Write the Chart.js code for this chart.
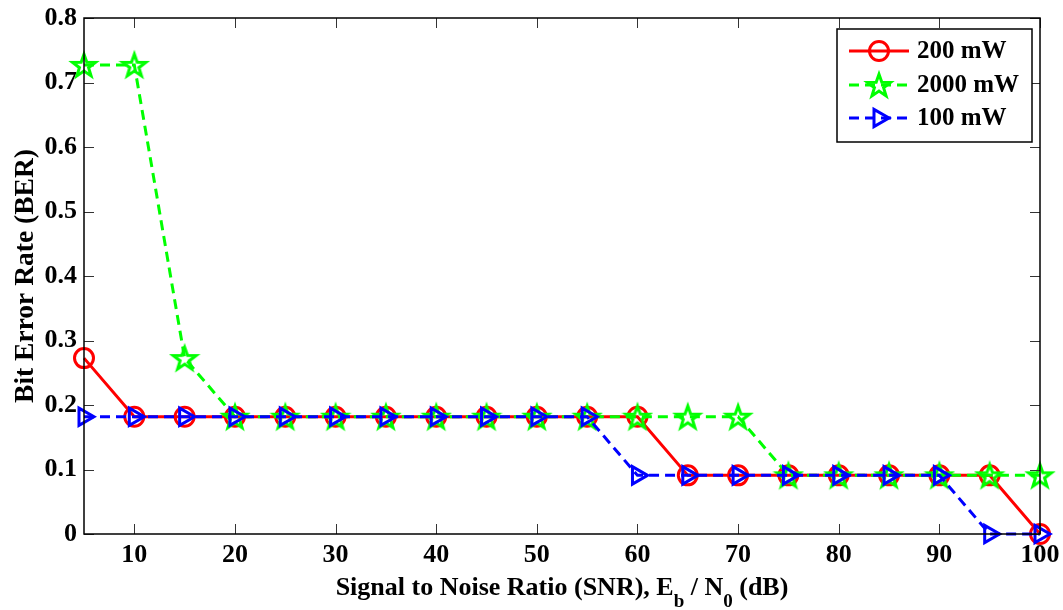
<!DOCTYPE html>
<html>
<head>
<meta charset="utf-8">
<script src="https://cdn.jsdelivr.net/npm/chart.js@4.4.1/dist/chart.umd.min.js"></script>
<style>
  body { margin: 0; background: #fff; }
  #wrap { width: 1063px; height: 610px; }
</style>
</head>
<body>
<div id="wrap"><canvas id="berChart" width="1063" height="610"></canvas></div>
<script>
// data (BER vs SNR)
const snr = [5, 10, 15, 20, 25, 30, 35, 40, 45, 50, 55, 60, 65, 70, 75, 80, 85, 90, 95, 100];
const ber200mW = [0.2727, 0.1818, 0.1818, 0.1818, 0.1818, 0.1818, 0.1818, 0.1818, 0.1818, 0.1818,
                  0.1818, 0.1818, 0.0909, 0.0909, 0.0909, 0.0909, 0.0909, 0.0909, 0.0909, 0];
const ber2000mW = [0.7273, 0.7273, 0.2727, 0.1818, 0.1818, 0.1818, 0.1818, 0.1818, 0.1818, 0.1818,
                   0.1818, 0.1818, 0.1818, 0.1818, 0.0909, 0.0909, 0.0909, 0.0909, 0.0909, 0.0909];
const ber100mW = [0.1818, 0.1818, 0.1818, 0.1818, 0.1818, 0.1818, 0.1818, 0.1818, 0.1818, 0.1818,
                  0.1818, 0.0909, 0.0909, 0.0909, 0.0909, 0.0909, 0.0909, 0.0909, 0, 0];
const seriesNames = ['200 mW', '2000 mW', '100 mW'];
const xTicks = [10, 20, 30, 40, 50, 60, 70, 80, 90, 100];
const yTicks = [0, 0.1, 0.2, 0.3, 0.4, 0.5, 0.6, 0.7, 0.8];

const FONT = '"Liberation Serif", "Times New Roman", serif';

function makePentagram(r, color, lw) {
    const size = Math.ceil(2 * r + lw * 2 + 2);
    const c = document.createElement('canvas');
    c.width = size;
    c.height = size;
    const g = c.getContext('2d');
    const cx = size / 2, cy = size / 2 + r * 0.1;
    g.beginPath();
    for (let i = 0; i < 10; i++) {
        const rad = i % 2 === 0 ? r : r * 0.4;
        const a = -Math.PI / 2 + i * Math.PI / 5;
        g.lineTo(cx + rad * Math.cos(a), cy + rad * Math.sin(a));
    }
    g.closePath();
    g.strokeStyle = color;
    g.lineWidth = lw;
    g.stroke();
    return c;
}

const star = makePentagram(12, '#00ff00', 3);

const frameAndLegend = {
    id: 'frameAndLegend',
    afterDraw(chart) {
        const ctx = chart.ctx;
        const a = chart.chartArea;
        const xs = chart.scales.x, ys = chart.scales.y;
        ctx.save();
        // inward ticks on all four sides
        ctx.strokeStyle = '#333';
        ctx.lineWidth = 1;
        ctx.beginPath();
        xTicks.forEach(v => {
            const px = Math.round(xs.getPixelForValue(v)) + 0.5;
            ctx.moveTo(px, a.bottom); ctx.lineTo(px, a.bottom - 10);
            ctx.moveTo(px, a.top); ctx.lineTo(px, a.top + 10);
        });
        yTicks.forEach(v => {
            const py = Math.round(ys.getPixelForValue(v)) + 0.5;
            ctx.moveTo(a.left, py); ctx.lineTo(a.left + 10, py);
            ctx.moveTo(a.right, py); ctx.lineTo(a.right - 10, py);
        });
        ctx.stroke();
        // box
        ctx.strokeStyle = '#000';
        ctx.lineWidth = 1.5;
        ctx.strokeRect(a.left, a.top, a.right - a.left, a.bottom - a.top);

        // x axis title with subscripts
        const parts = [
            { t: 'Signal to Noise Ratio (SNR), E', sub: false },
            { t: 'b', sub: true },
            { t: ' / N', sub: false },
            { t: '0', sub: true },
            { t: ' (dB)', sub: false }
        ];
        const big = 'bold 26px ' + FONT, small = 'bold 19px ' + FONT;
        let total = 0;
        parts.forEach(p => { ctx.font = p.sub ? small : big; p.w = ctx.measureText(p.t).width; total += p.w; });
        let tx = (a.left + a.right) / 2 - total / 2;
        ctx.fillStyle = '#000';
        ctx.textBaseline = 'alphabetic';
        ctx.textAlign = 'left';
        parts.forEach(p => {
            ctx.font = p.sub ? small : big;
            ctx.fillText(p.t, tx, p.sub ? 607 : 595);
            tx += p.w;
        });

        // legend
        const lx = 837, ly = 29, lw = 195, lh = 113;
        ctx.fillStyle = '#fff';
        ctx.fillRect(lx, ly, lw, lh);
        ctx.strokeStyle = '#000';
        ctx.lineWidth = 1.5;
        ctx.strokeRect(lx, ly, lw, lh);
        const rows = [51, 85, 118];
        chart.data.datasets.forEach((ds, i) => {
            const y = rows[i];
            ctx.save();
            ctx.strokeStyle = ds.borderColor;
            ctx.lineWidth = ds.borderWidth;
            ctx.setLineDash(ds.borderDash || []);
            ctx.beginPath();
            ctx.moveTo(849, y); ctx.lineTo(909, y);
            ctx.stroke();
            ctx.setLineDash([]);
            ctx.fillStyle = 'rgba(0,0,0,0)';
            ctx.strokeStyle = ds.pointBorderColor;
            ctx.lineWidth = ds.pointBorderWidth;
            Chart.helpers.drawPoint(ctx, {
                pointStyle: ds.pointStyle,
                radius: ds.pointRadius,
                rotation: ds.pointRotation || 0,
                borderWidth: ds.pointBorderWidth
            }, 879, y);
            ctx.restore();
            ctx.fillStyle = '#000';
            ctx.font = 'bold 25px ' + FONT;
            ctx.textBaseline = 'middle';
            ctx.fillText(ds.label, 917, y + 1);
        });
        ctx.restore();
    }
};

new Chart(document.getElementById('berChart'), {
    type: 'line',
    data: {
        datasets: [
            {
                label: seriesNames[0],
                data: snr.map((x, i) => ({ x: x, y: ber200mW[i] })),
                borderColor: '#ff0000',
                borderWidth: 3,
                pointStyle: 'circle',
                pointRadius: 9.5,
                pointBorderColor: '#ff0000',
                pointBackgroundColor: 'rgba(0,0,0,0)',
                pointBorderWidth: 3,
                order: 3
            },
            {
                label: seriesNames[1],
                data: snr.map((x, i) => ({ x: x, y: ber2000mW[i] })),
                borderColor: '#00ff00',
                borderWidth: 3,
                borderDash: [10, 6],
                pointStyle: star,
                pointRadius: 12,
                pointBorderColor: '#00ff00',
                pointBackgroundColor: 'rgba(0,0,0,0)',
                pointBorderWidth: 3,
                order: 2
            },
            {
                label: seriesNames[2],
                data: snr.map((x, i) => ({ x: x, y: ber100mW[i] })),
                borderColor: '#0000ff',
                borderWidth: 3,
                borderDash: [10, 6],
                pointStyle: 'triangle',
                pointRotation: 90,
                pointRadius: 10,
                pointBorderColor: '#0000ff',
                pointBackgroundColor: 'rgba(0,0,0,0)',
                pointBorderWidth: 3,
                order: 1
            }
        ]
    },
    options: {
        responsive: false,
        animation: false,
        clip: false,
        layout: { padding: { left: 0, top: 18, right: 23, bottom: 0 } },
        plugins: { legend: { display: false }, tooltip: { enabled: false } },
        elements: { line: { tension: 0, fill: false } },
        scales: {
            x: {
                type: 'linear',
                bounds: 'data',
                min: 5,
                max: 100,
                grid: { display: false, drawTicks: false },
                border: { display: false },
                afterBuildTicks: s => { s.ticks = xTicks.map(v => ({ value: v })); },
                afterFit: s => { s.height = 76; s.paddingLeft = 0; s.paddingRight = 0; },
                ticks: {
                    color: '#000',
                    padding: 6,
                    maxRotation: 0,
                    font: { family: FONT, size: 26, weight: 'bold' }
                }
            },
            y: {
                type: 'linear',
                bounds: 'data',
                min: 0,
                max: 0.8,
                grid: { display: false, drawTicks: false },
                border: { display: false },
                afterBuildTicks: s => { s.ticks = yTicks.map(v => ({ value: v })); },
                afterFit: s => { s.width = 84; s.paddingTop = 0; s.paddingBottom = 0; },
                ticks: {
                    color: '#000',
                    padding: 7,
                    font: { family: FONT, size: 26, weight: 'bold' },
                    callback: v => v === 0 ? '0' : v.toFixed(1)
                },
                title: {
                    display: true,
                    text: 'Bit Error Rate (BER)',
                    color: '#000',
                    padding: { top: 9, bottom: 0 },
                    font: { family: FONT, size: 27.5, weight: 'bold' }
                }
            }
        }
    },
    plugins: [frameAndLegend]
});
</script>
</body>
</html>
